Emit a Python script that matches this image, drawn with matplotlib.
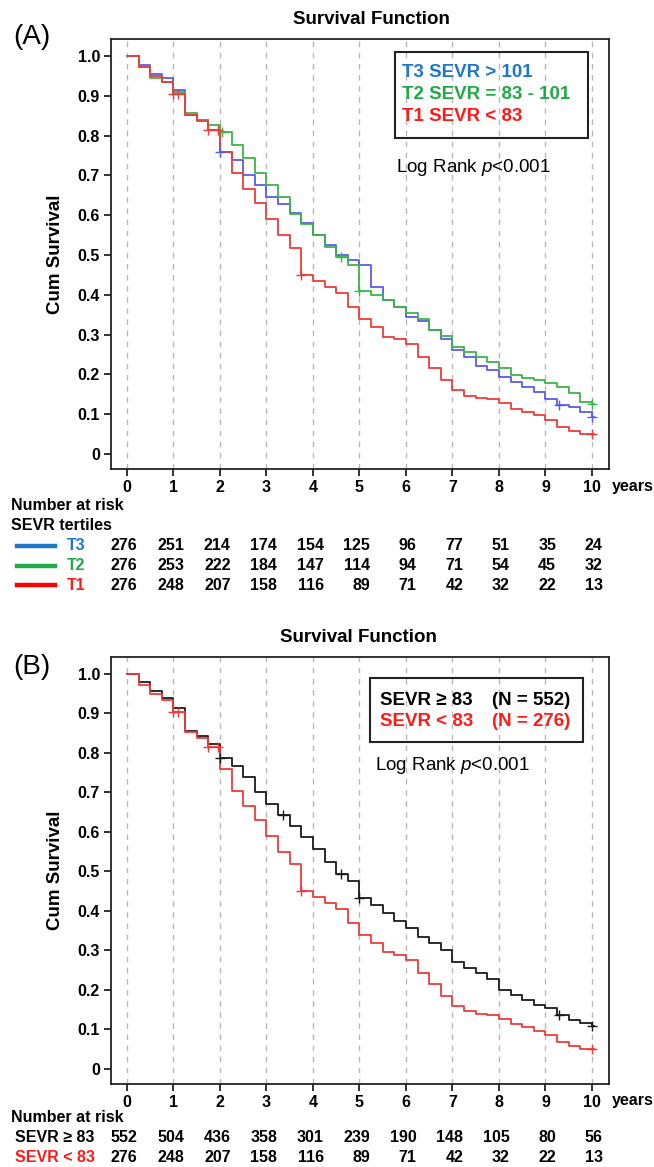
import numpy as np
import matplotlib
matplotlib.use("Agg")
import matplotlib.pyplot as plt
from matplotlib.transforms import blended_transform_factory
from matplotlib.patches import Rectangle

plt.rcParams['font.family'] = ['Liberation Sans', 'DejaVu Sans']
plt.rcParams['mathtext.fontset'] = 'custom'
plt.rcParams['mathtext.rm'] = 'Liberation Sans'
plt.rcParams['mathtext.it'] = 'Liberation Sans:italic'

# follow-up times (years) at which the curves were read
times = [0, 0.25, 0.5, 0.75, 1, 1.25, 1.5, 1.75, 2, 2.25, 2.5, 2.75, 3, 3.25, 3.5, 3.75,
         4, 4.25, 4.5, 4.75, 5, 5.25, 5.5, 5.75, 6, 6.25, 6.5, 6.75, 7, 7.25, 7.5, 7.75,
         8, 8.25, 8.5, 8.75, 9, 9.25, 9.5, 9.75, 10]

surv_t3 = [1.0, 0.978, 0.954, 0.944, 0.915, 0.852, 0.839, 0.814, 0.760, 0.738, 0.700, 0.676,
           0.646, 0.628, 0.605, 0.580, 0.550, 0.525, 0.500, 0.487, 0.474, 0.420, 0.386, 0.370,
           0.345, 0.335, 0.311, 0.290, 0.262, 0.244, 0.222, 0.212, 0.194, 0.181, 0.168, 0.156,
           0.139, 0.124, 0.118, 0.106, 0.093]
surv_t2 = [1.0, 0.973, 0.946, 0.935, 0.910, 0.856, 0.839, 0.826, 0.808, 0.776, 0.743, 0.705,
           0.675, 0.645, 0.604, 0.578, 0.550, 0.520, 0.495, 0.474, 0.410, 0.399, 0.386, 0.370,
           0.353, 0.340, 0.311, 0.296, 0.268, 0.256, 0.244, 0.231, 0.215, 0.198, 0.191, 0.185,
           0.177, 0.168, 0.152, 0.131, 0.125]
surv_t1 = [1.0, 0.973, 0.950, 0.935, 0.904, 0.852, 0.837, 0.814, 0.760, 0.705, 0.667, 0.630,
           0.590, 0.550, 0.518, 0.450, 0.435, 0.420, 0.405, 0.370, 0.340, 0.319, 0.295, 0.288,
           0.275, 0.244, 0.215, 0.185, 0.160, 0.146, 0.140, 0.137, 0.127, 0.114, 0.106, 0.097,
           0.086, 0.068, 0.058, 0.051, 0.050]
surv_ge83 = [1.0, 0.980, 0.956, 0.940, 0.914, 0.855, 0.843, 0.822, 0.788, 0.767, 0.738, 0.700,
             0.672, 0.642, 0.616, 0.588, 0.557, 0.525, 0.494, 0.477, 0.432, 0.414, 0.396, 0.374,
             0.356, 0.334, 0.318, 0.300, 0.272, 0.255, 0.244, 0.229, 0.200, 0.187, 0.175, 0.162,
             0.154, 0.137, 0.124, 0.116, 0.109]

# censoring marks (years)
cens_t3 = [2.0, 9.3, 10.0]
cens_t2 = [2.05, 4.6, 5.0, 10.0]
cens_t1 = [1.0, 1.1, 1.75, 1.95, 3.75, 10.0]
cens_ge83 = [2.0, 3.35, 4.6, 5.0, 9.3, 10.0]

# numbers at risk
years = [0, 1, 2, 3, 4, 5, 6, 7, 8, 9, 10]
risk_t3 = [276, 251, 214, 174, 154, 125, 96, 77, 51, 35, 24]
risk_t2 = [276, 253, 222, 184, 147, 114, 94, 71, 54, 45, 32]
risk_t1 = [276, 248, 207, 158, 116, 89, 71, 42, 32, 22, 13]
risk_ge83 = [552, 504, 436, 358, 301, 239, 190, 148, 105, 80, 56]
risk_lt83 = risk_t1

C_BLUE_LINE = '#5a5aee'
C_GREEN_LINE = '#3cb446'
C_RED_LINE = '#f03a3a'
C_BLACK_LINE = '#1a1a1a'
C_BLUE_TXT = '#1f77c8'
C_GREEN_TXT = '#22aa48'
C_RED_TXT = '#ff1a1a'

W, H = 654, 1167
fig = plt.figure(figsize=(W / 100, H / 100), dpi=100)


def fx(px):
    return px / W


def fy(py):
    return 1 - py / H


def km(ax, vals, cens, color):
    t = list(times) + [10.05]
    v = list(vals) + [vals[-1]]
    ax.step(t, v, where='post', color=color, lw=1.3, zorder=3)
    idx = np.searchsorted(times, cens, side='right') - 1
    ax.plot(cens, np.array(vals)[idx], ls='none', marker='+', ms=7, mew=1.0,
            color=color, zorder=4)


def setup_axes(ax, ylab_px):
    ax.set_xlim(-0.344, 10.366)
    ax.set_ylim(-0.038, 1.043)
    ax.set_xticks(years)
    ax.set_yticks(np.arange(0, 1.01, 0.1))
    ax.set_yticklabels(['0'] + [f'{v:.1f}' for v in np.arange(0.1, 1.01, 0.1)])
    for x in years:
        ax.axvline(x, color='#b8b8b8', lw=1.0, ls=(0, (4, 4)), zorder=1)
    for s in ax.spines.values():
        s.set_color('#222222')
        s.set_linewidth(1.3)
    ax.tick_params(direction='out', length=5, width=1.3, color='#222222',
                   labelsize=11.5, pad=3)
    for lab in ax.get_xticklabels() + ax.get_yticklabels():
        lab.set_fontweight('bold')
    ax.set_ylabel('Cum Survival', fontsize=13.5, fontweight='bold', labelpad=10)
    tr = blended_transform_factory(ax.transAxes, fig.transFigure)
    ax.text(1.005, fy(ylab_px), 'years', transform=tr, ha='left', va='center',
            fontsize=11.5, fontweight='bold')


def risk_row(ax, ypx, values, color='black'):
    tr = blended_transform_factory(ax.transData, fig.transFigure)
    for x, n in zip(years, values):
        ax.text(x + 0.23, fy(ypx), str(n), transform=tr, ha='right', va='center',
                fontsize=11.5, fontweight='bold', color=color, clip_on=False)


# ---------------- Panel A ----------------
axA = fig.add_axes([fx(111), fy(469), fx(609 - 111), (469 - 39) / H])
setup_axes(axA, 486)
km(axA, surv_t3, cens_t3, C_BLUE_LINE)
km(axA, surv_t2, cens_t2, C_GREEN_LINE)
km(axA, surv_t1, cens_t1, C_RED_LINE)

fig.text(fx(371), fy(19), 'Survival Function', ha='center', va='center',
         fontsize=13.5, fontweight='bold')
fig.text(fx(13), fy(37), '(A)', ha='left', va='center', fontsize=20)

axA.add_patch(Rectangle((0.570, 0.770), 0.387, 0.200, transform=axA.transAxes,
                        fill=False, ec='#222222', lw=1.5, zorder=5))
for yy, txt, c in [(0.923, 'T3 SEVR > 101', C_BLUE_TXT),
                   (0.872, 'T2 SEVR = 83 - 101', C_GREEN_TXT),
                   (0.819, 'T1 SEVR < 83', C_RED_TXT)]:
    axA.text(0.584, yy, txt, transform=axA.transAxes, ha='left', va='center',
             fontsize=13.5, fontweight='bold', color=c)
axA.text(0.572, 0.702, 'Log Rank $p$<0.001', transform=axA.transAxes,
         ha='left', va='center', fontsize=13.5)

fig.text(fx(11), fy(505), 'Number at risk', ha='left', va='center',
         fontsize=11.5, fontweight='bold')
fig.text(fx(11), fy(525), 'SEVR tertiles', ha='left', va='center',
         fontsize=11.5, fontweight='bold')
for ypx, lab, lc, tc, vals in [(546, 'T3', C_BLUE_TXT, C_BLUE_TXT, risk_t3),
                               (566, 'T2', C_GREEN_TXT, C_GREEN_TXT, risk_t2),
                               (585, 'T1', '#ff0000', C_RED_TXT, risk_t1)]:
    fig.add_artist(plt.Line2D([fx(17), fx(55)], [fy(ypx), fy(ypx)], color=lc, lw=3.2))
    fig.text(fx(67), fy(ypx), lab, ha='left', va='center', fontsize=11.5,
             fontweight='bold', color=tc)
    risk_row(axA, ypx, vals)

# ---------------- Panel B ----------------
axB = fig.add_axes([fx(111), fy(1084), fx(609 - 111), (1084 - 657) / H])
setup_axes(axB, 1100)
km(axB, surv_ge83, cens_ge83, C_BLACK_LINE)
km(axB, surv_t1, cens_t1, C_RED_LINE)

fig.text(fx(358), fy(638), 'Survival Function', ha='center', va='center',
         fontsize=13.5, fontweight='bold')
fig.text(fx(13), fy(667), '(B)', ha='left', va='center', fontsize=20)

axB.add_patch(Rectangle((0.520, 0.801), 0.428, 0.150, transform=axB.transAxes,
                        fill=False, ec='#222222', lw=1.5, zorder=5))
axB.text(0.540, 0.899, 'SEVR ≥ 83', transform=axB.transAxes, ha='left', va='center',
         fontsize=13.5, fontweight='bold', color='black')
axB.text(0.765, 0.899, '(N = 552)', transform=axB.transAxes, ha='left', va='center',
         fontsize=13.5, fontweight='bold', color='black')
axB.text(0.540, 0.848, 'SEVR < 83', transform=axB.transAxes, ha='left', va='center',
         fontsize=13.5, fontweight='bold', color=C_RED_TXT)
axB.text(0.765, 0.848, '(N = 276)', transform=axB.transAxes, ha='left', va='center',
         fontsize=13.5, fontweight='bold', color=C_RED_TXT)
axB.text(0.530, 0.745, 'Log Rank $p$<0.001', transform=axB.transAxes,
         ha='left', va='center', fontsize=13.5)

fig.text(fx(11), fy(1118), 'Number at risk', ha='left', va='center',
         fontsize=11.5, fontweight='bold')
fig.text(fx(15), fy(1138), 'SEVR ≥ 83', ha='left', va='center',
         fontsize=11.5, fontweight='bold')
fig.text(fx(15), fy(1158), 'SEVR < 83', ha='left', va='center',
         fontsize=11.5, fontweight='bold', color=C_RED_TXT)
risk_row(axB, 1138, risk_ge83)
risk_row(axB, 1158, risk_lt83)

fig.savefig('out.png', dpi=100)
